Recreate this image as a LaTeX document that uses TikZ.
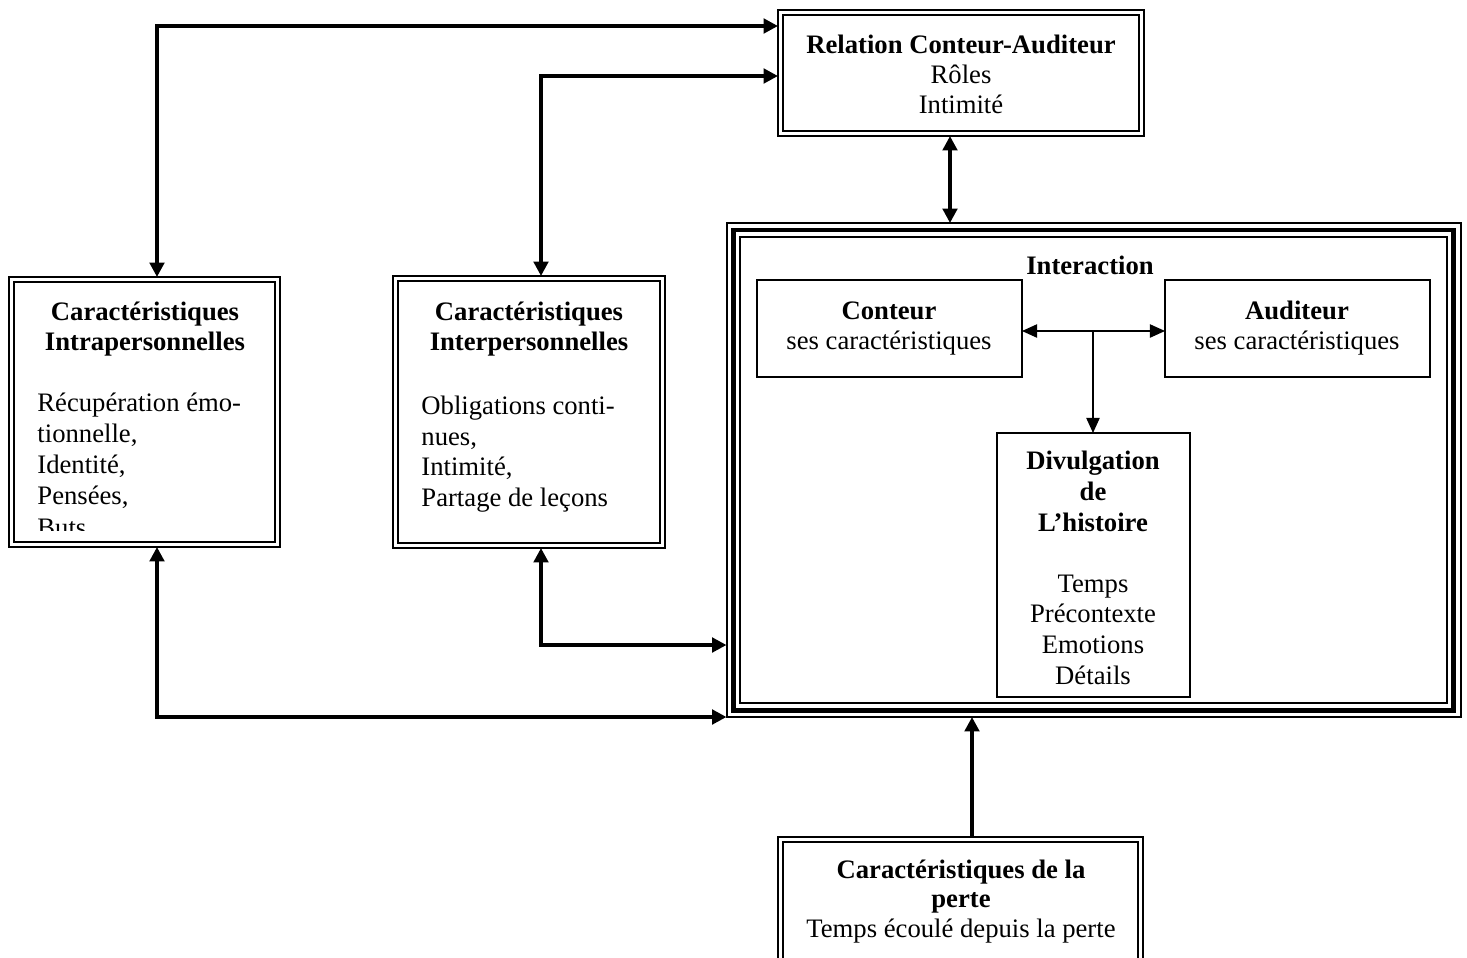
\documentclass[tikz,border=0pt]{standalone}
\usepackage{fontspec}
\setmainfont{Liberation Serif}
\usetikzlibrary{arrows.meta,fit}
\begin{document}
\begin{tikzpicture}[x=0.45pt,y=-0.45pt,
  box/.style={draw, line width=1.2pt, inner sep=0pt, outer sep=0pt},
  innerline/.style={line width=0.75pt},
  sbox/.style={draw, line width=1.3pt, inner sep=0pt, outer sep=0pt},
  thinframe/.style={draw, line width=0.9pt, inner sep=0pt, outer sep=0pt},
  thickframe/.style={draw, line width=2pt, inner sep=0pt, outer sep=0pt},
  txt/.style={align=center, inner sep=0pt, anchor=base},
  ltxt/.style={align=left, inner sep=0pt, anchor=base west},
  thk/.style={line width=1.6pt, {Triangle[length=6.5pt,width=6.5pt]}-{Triangle[length=6.5pt,width=6.5pt]}},
  thkone/.style={line width=1.6pt, -{Triangle[length=6.5pt,width=6.5pt]}},
  thn/.style={line width=0.6pt, {Triangle[length=6.8pt,width=6pt]}-{Triangle[length=6.8pt,width=6pt]}},
  thnone/.style={line width=0.6pt, -{Triangle[length=6.8pt,width=6pt]}}
]
\clip (0,0) rectangle (1467,957);

% boxes
\node[box, fit={(778,10)(1144,136)}] (rel) {};
\draw[innerline] ([shift={(5,5)}]rel.north west) rectangle ([shift={(-5,-5)}]rel.south east);
\node[box, fit={(9,277)(280,547)}] (intra) {};
\draw[innerline] ([shift={(5,5)}]intra.north west) rectangle ([shift={(-5,-5)}]intra.south east);
\node[box, fit={(393,276)(665,548)}] (inter) {};
\draw[innerline] ([shift={(5,5)}]inter.north west) rectangle ([shift={(-5,-5)}]inter.south east);
\node[box, fit={(778,837)(1143,990)}] (perte) {};
\draw[innerline] ([shift={(5,5)}]perte.north west) rectangle ([shift={(-5,-5)}]perte.south east);

\node[thinframe, fit={(726.5,223)(1460.5,717)}] (ia) {};
\node[thickframe, fit={(733.5,230)(1453.5,710.5)}] (ib) {};
\node[thinframe, fit={(740,236.5)(1447,702.5)}] (ic) {};

\node[sbox, fit={(757,280)(1022,377)}] (cont) {};
\node[sbox, fit={(1165,280)(1430,377)}] (aud) {};
\node[sbox, fit={(997,433)(1190,697)}] (div) {};

% texts (anchor base = baseline of the last line)
\node[txt, font=\fontsize{12}{13.3}\selectfont] (relT) at (961,113) {\textbf{Relation Conteur-Auditeur}\\Rôles\\Intimité};
\node[txt, font=\fontsize{12}{13.5}\selectfont] (intraT) at (145,350) {\textbf{Caractéristiques}\\\textbf{Intrapersonnelles}};
\begin{scope}
\clip (20,380) rectangle (270,530.5);
\node[ltxt, font=\fontsize{12}{14}\selectfont] (intraL) at (37,536) {Récupération émo-\\tionnelle,\\Identité,\\Pensées,\\Buts};
\end{scope}
\node[txt, font=\fontsize{12}{13.5}\selectfont] (interT) at (529,350) {\textbf{Caractéristiques}\\\textbf{Interpersonnelles}};
\node[ltxt, font=\fontsize{12}{13.7}\selectfont] (interL) at (421,506) {Obligations conti-\\nues,\\Intimité,\\Partage de leçons};
\node[txt, font=\fontsize{12}{13.5}\bfseries\selectfont] (iaT) at (1090,274) {Interaction};
\node[txt, font=\fontsize{12}{13.5}\selectfont] (contT) at (889,349) {\textbf{Conteur}\\ses caractéristiques};
\node[txt, font=\fontsize{12}{13.5}\selectfont] (audT) at (1297,349) {\textbf{Auditeur}\\ses caractéristiques};
\node[txt, font=\fontsize{12}{13.8}\selectfont] (divT) at (1093,531) {\textbf{Divulgation}\\\textbf{de}\\\textbf{L’histoire}};
\node[txt, font=\fontsize{12}{13.8}\selectfont] (divL) at (1093,684) {Temps\\Précontexte\\Emotions\\Détails};
\node[txt, font=\fontsize{12}{13.2}\selectfont] (perteT) at (961,937) {\textbf{Caractéristiques de la}\\\textbf{perte}\\Temps écoulé depuis la perte};

% connectors
\coordinate (a1) at (157,26);
\draw[thk] (intra.north -| a1) |- (rel.west |- a1);
\coordinate (a2) at (541,76);
\draw[thk] (inter.north -| a2) |- (rel.west |- a2);
\coordinate (a3) at (950,180);
\draw[thk] (rel.south -| a3) -- (ia.north -| a3);
\coordinate (a4) at (541,645);
\draw[thk] (inter.south -| a4) |- (ia.west |- a4);
\coordinate (a5) at (157,717);
\draw[thk] (intra.south -| a5) |- (ia.west |- a5);
\coordinate (a6) at (972,780);
\draw[thkone] (perte.north -| a6) -- (ia.south -| a6);
\coordinate (a7) at (1093,331);
\draw[thn] (cont.east |- a7) -- (aud.west |- a7);
\draw[thnone] (a7) -- (div.north -| a7);
\end{tikzpicture}
\end{document}
